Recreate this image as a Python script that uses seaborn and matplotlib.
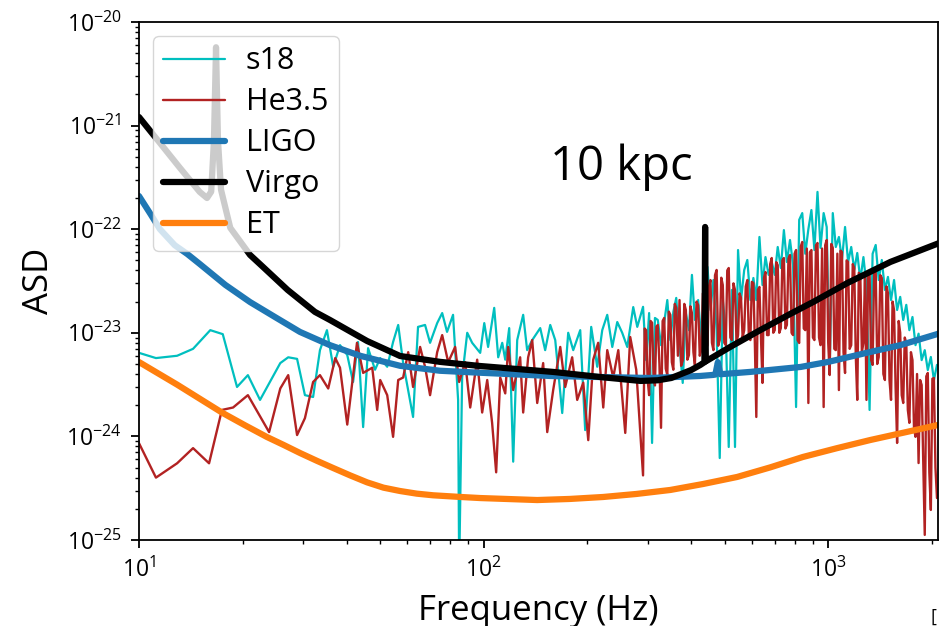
import numpy as np
import pandas as pd
import matplotlib
matplotlib.use("Agg")
import matplotlib.pyplot as plt
import seaborn as sns

# ---------------- data ----------------
# s18 (cyan)
s18_freq_low = [10.0, 11.2, 12.9, 14.35, 16.1, 17.5, 19.25, 20.7, 22.45, 25.7, 27.1, 28.75, 30.3, 32.0,
                33.5, 35.1, 36.6, 38.3, 40.2, 41.8, 43.2, 44.7, 46.2, 48.4, 50.1, 52.5, 54.6, 56.5,
                58.4, 62.4, 64.5, 67.6, 69.9, 73.3, 75.8, 78.3, 81.5, 84.3, 84.9, 86.6, 89.6, 92.6, 97.7]
s18_asd_low = [6.4e-24, 5.7e-24, 6.0e-24, 7.0e-24, 1.06e-23, 9.7e-24, 3.0e-24, 3.9e-24, 2.25e-24, 5.1e-24,
               5.8e-24, 5.6e-24, 2.5e-24, 2.4e-24, 6.8e-24, 1.06e-23, 4.7e-24, 7.6e-24, 6.1e-24, 3.35e-24,
               8.15e-24, 1.23e-24, 7.1e-24, 4.4e-24, 5.7e-24, 4.7e-24, 8.15e-24, 1.19e-23, 5.1e-24, 1.54e-24,
               1.14e-23, 1.19e-23, 8.0e-24, 1.24e-23, 1.55e-23, 1.02e-23, 1.49e-23, 2.25e-24, 5e-26, 3.7e-24,
               1.0e-23, 8.0e-24, 6.4e-24]
s18_freq_mid = [100.4, 103.0, 107.3, 110.2, 113.2, 115.5, 118.6, 121.8, 125.1, 130.2, 133.7, 138.3, 145.9,
                150.8, 156.0, 161.3, 169.0, 175.9, 181.9, 190.6, 197.0, 205.1, 213.5, 220.8, 228.3, 236.1,
                244.1, 252.3, 261.0, 271.6, 279.0]
s18_asd_mid = [1.24e-23, 7.3e-24, 1.74e-23, 5.8e-24, 8.0e-24, 5.5e-24, 1.11e-23, 5.7e-25, 8.5e-24, 1.49e-23,
               6.8e-24, 8.5e-24, 1.11e-23, 6.8e-24, 1.19e-23, 8.5e-24, 1.68e-24, 1.0e-23, 6.8e-24, 1.06e-23,
               1.15e-24, 1.14e-23, 4.7e-24, 1.06e-23, 1.49e-23, 7.3e-24, 1.27e-23, 1.0e-23, 7.3e-24, 1.77e-23,
               1.14e-23]
s18_freq_high = [290, 296, 302, 308, 314, 320, 327, 334, 341, 348, 355, 362, 370, 378, 386, 394, 402, 410,
                 419, 428, 437, 446, 455, 464, 474, 484, 494, 504, 514, 525, 536, 547, 558, 570, 582, 594,
                 606, 618, 631, 644, 657, 671, 685, 699, 713, 728, 743, 758, 774, 790, 806, 823, 840, 857,
                 875, 893, 911, 930, 949, 969, 989, 1009, 1030, 1051, 1073, 1095, 1118, 1141, 1165, 1189,
                 1213, 1238, 1264, 1290, 1317, 1344, 1372, 1400, 1429, 1459, 1489, 1520, 1551, 1583, 1616,
                 1649, 1683, 1718, 1754, 1790, 1827, 1865, 1904, 1943, 1983, 2024, 2066]
s18_asd_high = [1.78e-23, 5.45e-24, 1.55e-23, 8.64e-25, 1.39e-23, 1.33e-23, 7.6e-24, 1.25e-23, 2.07e-23,
                8.5e-24, 1.59e-23, 2.17e-23, 7.6e-24, 3.28e-24, 1.55e-23, 1.06e-23, 3.62e-23, 1.33e-23,
                2.07e-23, 8.5e-24, 2.59e-23, 4.32e-23, 1.66e-23, 3.23e-23, 1.06e-23, 6.18e-25, 2.07e-23,
                1.06e-23, 7.9e-25, 2.59e-23, 7.9e-25, 6.29e-23, 2.07e-23, 4.04e-23, 5.04e-23, 2.07e-23,
                3.38e-23, 2.07e-23, 8.41e-23, 2.89e-23, 5.38e-23, 3.62e-23, 4.82e-23, 3.62e-23, 6.73e-23,
                4.22e-23, 9.8e-23, 4.82e-23, 7.86e-23, 4.5e-23, 1.92e-24, 1.23e-22, 1.43e-22, 5.79e-23,
                1.0e-22, 1.53e-22, 6.29e-23, 2.29e-22, 6.6e-23, 1.43e-22, 1.05e-22, 4.37e-24, 1.43e-22,
                6.73e-23, 8.41e-23, 5.04e-23, 1.05e-22, 4.82e-23, 6.73e-23, 4.04e-23, 5.89e-23, 3.23e-23,
                5.38e-23, 2.89e-23, 1.8e-24, 5.79e-23, 7.04e-23, 3.23e-23, 5.04e-23, 2.59e-23, 3.46e-23,
                2.07e-23, 3.23e-23, 1.66e-23, 2.22e-23, 1.33e-23, 1.86e-23, 1.06e-23, 1.42e-23, 7.6e-24,
                9.8e-24, 5.45e-24, 6.8e-24, 4.37e-24, 5.84e-24, 3.5e-24, 4.9e-24]

# He3.5 (firebrick)
he_freq_low = [10.0, 11.2, 12.9, 14.35, 15.97, 17.4, 18.75, 20.7, 23.85, 25.7, 27.1, 28.75, 30.3, 32.0,
               33.5, 35.4, 37.1, 38.3, 40.2, 42.9, 44.7, 47.5, 49.1, 50.1, 52.5, 54.6, 56.5, 58.4, 60.4,
               62.4, 65.4, 67.6, 69.9, 73.3, 75.8, 78.9, 82.65, 84.9, 88.4, 91.4]
he_asd_low = [8.6e-25, 4.0e-25, 5.5e-25, 7.7e-25, 5.5e-25, 1.8e-24, 1.9e-24, 2.5e-24, 1.1e-24, 2.9e-24,
              3.9e-24, 1.03e-24, 1.5e-24, 3.35e-24, 3.9e-24, 2.9e-24, 5.7e-24, 4.6e-24, 1.3e-24, 8.0e-24,
              4.1e-24, 4.6e-24, 1.8e-24, 3.5e-24, 2.5e-24, 9.9e-25, 3.5e-24, 3.7e-24, 6.5e-24, 3.0e-24,
              7.3e-24, 4.7e-24, 2.5e-24, 6.5e-24, 9.5e-24, 5.2e-24, 7.3e-24, 3.35e-24, 5.2e-24, 1.9e-24]
he_freq_mid = [95.75, 99.0, 102.4, 105.8, 108.7, 111.7, 115.5, 117.8, 121.8, 127.6, 130.2, 134.6, 138.3,
               143.0, 148.8, 152.9, 159.1, 166.8, 172.4, 180.6, 186.8, 194.5, 201.1, 207.9, 214.9, 222.3,
               228.3, 237.6, 245.8, 257.5, 266.2, 277.1]
he_asd_mid = [5.5e-24, 1.7e-24, 3.5e-24, 1.35e-24, 4.5e-25, 3.7e-24, 2.6e-24, 7.3e-24, 2.8e-24, 5.8e-24,
              1.7e-24, 5.8e-24, 8.5e-24, 2.1e-24, 5.1e-24, 1.1e-24, 2.8e-24, 7.3e-24, 3.0e-24, 5.8e-24,
              2.25e-24, 3.3e-24, 9.2e-25, 5.5e-24, 8.0e-24, 1.9e-24, 6.8e-24, 3.7e-24, 6.8e-24, 1.08e-24,
              9.1e-24, 4.4e-24]
he_freq_high = [290, 293, 296, 299, 302, 305, 308, 311, 314, 317, 320, 323.5, 327, 330.5, 334, 337.5, 341,
                344.5, 348, 351.5, 355, 358.5, 362, 366, 370, 374, 378, 382, 386, 390, 394, 398, 402, 406,
                410, 414.5, 419, 423.5, 428, 432.5, 437, 441.5, 446, 450.5, 455, 459.5, 464, 469, 474, 479,
                484, 489, 494, 499, 504, 509, 514, 519.5, 525, 530.5, 536, 541.5, 547, 552.5, 558, 564,
                570, 576, 582, 588, 594, 600, 606, 612, 618, 624.5, 631, 637.5, 644, 650.5, 657, 664, 671,
                678, 685, 692, 699, 706, 713, 720.5, 728, 735.5, 743, 750.5, 758, 766, 774, 782, 790, 798,
                806, 814.5, 823, 831.5, 840, 848.5, 857, 866, 875, 884, 893, 902, 911, 920.5, 930, 939.5,
                949, 959, 969, 979, 989, 999, 1009, 1019.5, 1030, 1040.5, 1051, 1062, 1073, 1084, 1095,
                1106.5, 1118, 1129.5, 1141, 1153, 1165, 1177, 1189, 1201, 1213, 1225.5, 1238, 1251, 1264,
                1277, 1290, 1303.5, 1317, 1330.5, 1344, 1358, 1372, 1386, 1400, 1414.5, 1429, 1444, 1459,
                1474, 1489, 1504.5, 1520, 1535.5, 1551, 1567, 1583, 1599.5, 1616, 1632.5, 1649, 1666,
                1683, 1700.5, 1718, 1736, 1754, 1772, 1790, 1808.5, 1827, 1846, 1865, 1884.5, 1904,
                1923.5, 1943, 1963, 1983, 2003.5, 2024, 2045, 2066]
he_asd_high = [4.2e-25, 1.1e-23, 1.06e-23, 3.5e-24, 2.5e-24, 1.3e-23, 1.25e-23, 4.0e-24, 3.1e-24, 1.15e-23,
               1.19e-23, 5.0e-24, 1.21e-24, 1.3e-23, 1.39e-23, 4.5e-24, 3.9e-24, 1.6e-23, 1.49e-23, 5.2e-24,
               4.4e-24, 1.9e-23, 1.74e-23, 6.0e-24, 2.07e-23, 4.8e-24, 5.4e-24, 1.9e-23, 1.66e-23, 5.5e-24,
               6.1e-24, 1.8e-23, 1.55e-23, 6.5e-24, 4.9e-24, 2.0e-23, 1.85e-23, 6.0e-24, 6.8e-24, 2.4e-23,
               2.22e-23, 7.0e-24, 7.6e-24, 2.8e-23, 3.23e-23, 8.0e-24, 6.8e-24, 3.6e-23, 4.04e-23, 7.5e-24,
               8.5e-24, 3.4e-23, 2.89e-23, 8.0e-24, 7.6e-24, 4.0e-23, 4.22e-23, 9.0e-24, 8.5e-24, 3.0e-23,
               2.59e-23, 8.0e-24, 9.5e-24, 2.4e-23, 2.17e-23, 9.0e-24, 1.06e-23, 2.8e-23, 3.23e-23, 9.0e-24,
               8.5e-24, 3.1e-23, 3.02e-23, 8.0e-24, 1.54e-24, 2.6e-23, 2.77e-23, 9.0e-24, 3.28e-24, 3.4e-23,
               3.86e-23, 9.5e-24, 9.5e-24, 4.6e-23, 5.27e-23, 1.0e-23, 1.06e-23, 4.8e-23, 4.5e-23, 1.0e-23,
               1.11e-23, 5.0e-23, 5.27e-23, 1.1e-23, 1.19e-23, 5.2e-23, 5.63e-23, 1.0e-23, 9.5e-24, 5.8e-23,
               6.29e-23, 8.5e-24, 7.97e-24, 6.8e-23, 7.52e-23, 1.1e-23, 1.06e-23, 6.5e-23, 2.1e-24, 6.0e-23,
               6.29e-23, 9.0e-24, 8.5e-24, 7.0e-23, 7.36e-23, 9.0e-24, 7.6e-24, 6.5e-23, 1.92e-24, 7.0e-23,
               7.86e-23, 8.0e-24, 3.91e-24, 7.2e-23, 6.6e-23, 7.0e-24, 6.8e-24, 5.8e-23, 2.8e-24, 6.2e-23,
               6.03e-23, 6.5e-24, 4.09e-24, 5.0e-23, 4.82e-23, 7.0e-24, 7.6e-24, 4.6e-23, 4.22e-23, 6.0e-24,
               2.25e-24, 3.8e-23, 3.62e-23, 6.5e-24, 7.97e-24, 3.5e-23, 2.25e-24, 3.6e-23, 3.86e-23, 5.5e-24,
               4.9e-24, 4.0e-23, 4.04e-23, 5.0e-24, 5.84e-24, 3.6e-23, 3.38e-23, 4.0e-24, 3.5e-24, 2.8e-23,
               2.42e-23, 3.5e-24, 2.25e-24, 2.0e-23, 1.66e-23, 3.0e-24, 8.64e-25, 1.3e-23, 1.0e-23, 2.5e-24,
               2.1e-24, 9.0e-24, 7.97e-24, 1.8e-24, 1.35e-24, 6.5e-24, 5.45e-24, 1.2e-24, 9.9e-25, 4.0e-24,
               5.53e-25, 3.5e-24, 3.13e-24, 6.0e-25, 1.12e-25, 3.8e-24, 4.09e-24, 4.5e-25, 1.95e-25, 3.6e-24,
               3.66e-24, 5.0e-25, 2.54e-25]

# LIGO design curve
ligo_freq = [10.0, 10.8, 11.5, 12.7, 13.8, 15.0, 17.8, 21.0, 24.8, 29.3, 35.8, 43.8, 57.2, 74.7, 100,
             156, 218, 304, 425, 463, 470, 478, 486, 593, 831, 1000, 1324, 1618, 2130]
ligo_asd = [2.09e-22, 1.40e-22, 1.0e-22, 7.0e-23, 5.77e-23, 4.62e-23, 2.9e-23, 1.98e-23, 1.42e-23,
            1.02e-23, 7.6e-24, 6.0e-24, 4.8e-24, 4.3e-24, 4.1e-24, 3.83e-24, 3.74e-24, 3.66e-24,
            3.83e-24, 3.92e-24, 3.95e-24, 5.2e-24, 3.98e-24, 4.19e-24, 4.68e-24, 5.24e-24, 6.53e-24,
            7.6e-24, 1.0e-23]

# Virgo design curve
virgo_freq = [10.0, 11.5, 13.15, 15.0, 15.75, 16.2, 16.5, 16.73, 16.95, 17.3, 18.4, 21.0, 22.9, 27.0,
              32.4, 35.8, 45.9, 57.2, 74.7, 97.5, 159, 218, 285, 320, 350, 400, 425, 437, 439, 441, 519,
              634, 775, 903, 1135, 1514, 2130]
virgo_asd = [1.21e-21, 6.8e-22, 3.9e-22, 2.29e-22, 2.0e-22, 2.3e-22, 7.2e-22, 5.7e-21, 7.2e-22, 2.4e-22,
             1.03e-22, 5.64e-23, 4.32e-23, 2.59e-23, 1.59e-23, 1.33e-23, 8.33e-24, 5.97e-24, 5.24e-24,
             4.78e-24, 4.19e-24, 3.74e-24, 3.43e-24, 3.48e-24, 3.66e-24, 4.37e-24, 4.89e-24, 5.2e-24,
             1.05e-22, 5.3e-24, 7.3e-24, 1.06e-23, 1.52e-23, 1.98e-23, 3.02e-23, 4.83e-23, 7.5e-23]

# Einstein Telescope curve
et_freq = [10.0, 12.9, 17.5, 20.3, 23.5, 26.3, 29.35, 32.9, 36.6, 41.0, 45.9, 51.2, 57.2, 64.0, 71.35,
           86.0, 97.7, 143, 178, 222, 277, 348, 433, 544, 678, 844, 1055, 1324, 1660, 2085]
et_asd = [5.22e-24, 3.16e-24, 1.68e-24, 1.28e-24, 9.87e-25, 8.26e-25, 6.9e-25, 5.79e-25, 4.95e-25,
          4.2e-25, 3.6e-25, 3.2e-25, 2.97e-25, 2.8e-25, 2.7e-25, 2.6e-25, 2.54e-25, 2.43e-25, 2.49e-25,
          2.6e-25, 2.78e-25, 3.04e-25, 3.47e-25, 4.06e-25, 5.02e-25, 6.33e-25, 7.67e-25, 9.23e-25,
          1.09e-24, 1.29e-24]

x_ticks = [10, 100, 1000]
y_ticks = [1e-25, 1e-24, 1e-23, 1e-22, 1e-21, 1e-20]

# ---------------- plotting ----------------
sns.set_style("ticks")
plt.rcParams["font.family"] = ["Open Sans", "DejaVu Sans"]
plt.rcParams["mathtext.fontset"] = "dejavusans"
for key in ["text.color", "axes.labelcolor", "xtick.color", "ytick.color", "axes.edgecolor"]:
    plt.rcParams[key] = "black"

fig = plt.figure(figsize=(9.41, 6.26), dpi=100)
ax = fig.add_axes([0.1477, 0.1374, 0.8491, 0.8275])
ax.set_xscale("log")
ax.set_yscale("log")

series = [
    ("s18", s18_freq_low + s18_freq_mid + s18_freq_high, s18_asd_low + s18_asd_mid + s18_asd_high, "c", 1.6),
    ("He3.5", he_freq_low + he_freq_mid + he_freq_high, he_asd_low + he_asd_mid + he_asd_high, "firebrick", 1.7),
    ("LIGO", ligo_freq, ligo_asd, "tab:blue", 4.5),
    ("Virgo", virgo_freq, virgo_asd, "black", 4.5),
    ("ET", et_freq, et_asd, "tab:orange", 4.5),
]
for label, f, v, color, lw in series:
    df = pd.DataFrame({"Frequency": f, "ASD": v})
    sns.lineplot(data=df, x="Frequency", y="ASD", ax=ax, color=color, linewidth=lw,
                 label=label, estimator=None, sort=False)

ax.set_xlim(10, 2080)
ax.set_ylim(1e-25, 1e-20)
ax.set_xticks(x_ticks)
ax.set_yticks(y_ticks)
ax.set_xlabel("Frequency (Hz)", fontsize=25, labelpad=8)
ax.set_ylabel("ASD", fontsize=25, labelpad=7)
ax.tick_params(which="major", length=6, width=1.3, labelsize=16.5, pad=6.5, direction="out")
ax.tick_params(which="minor", length=3, width=1.0, direction="out")
for s in ax.spines.values():
    s.set_linewidth(1.3)
    s.set_color("black")

ax.text(156, 3.0e-22, "10 kpc", fontsize=34)
ax.legend(loc="upper left", fontsize=22, borderaxespad=0.45, labelspacing=0.36,
          handlelength=2.0, handletextpad=0.7, borderpad=0.35)

fig.text(0.989, 0.0, "[", fontsize=13, ha="left", va="bottom")

fig.savefig("out.png", dpi=100)
